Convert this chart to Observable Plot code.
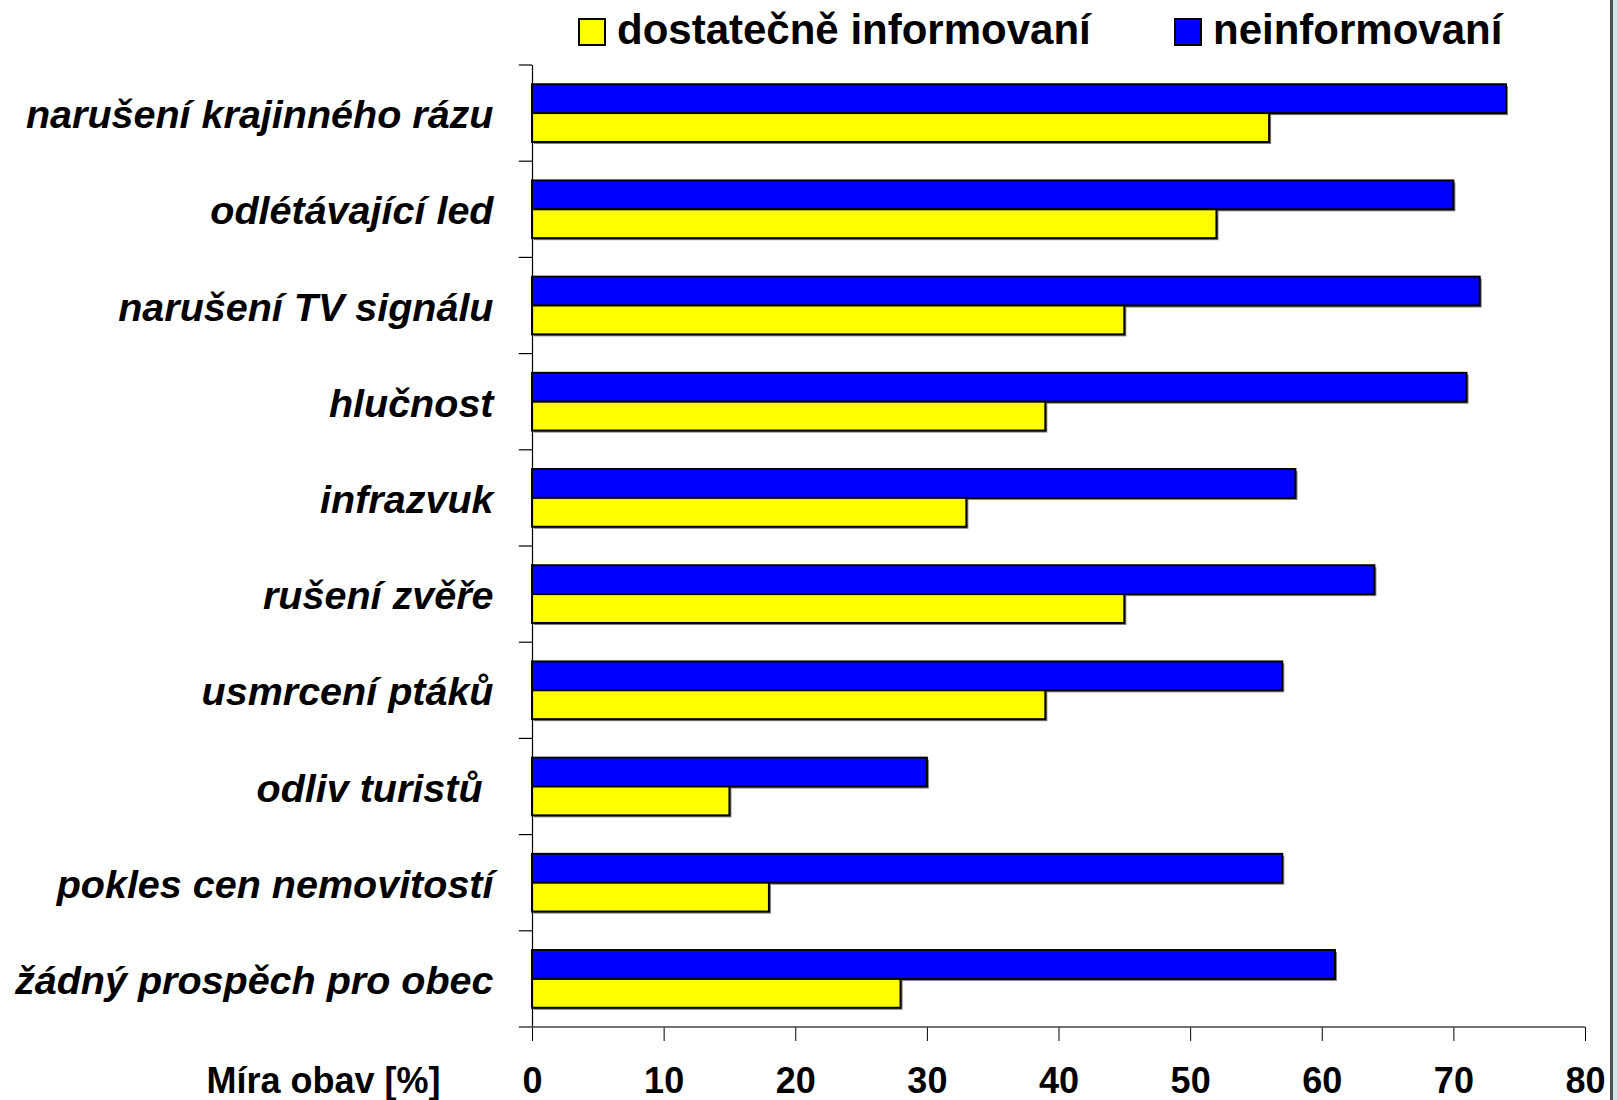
<!DOCTYPE html>
<html>
<head>
<meta charset="utf-8">
<script src="https://cdn.jsdelivr.net/npm/d3@7"></script>
<script src="https://cdn.jsdelivr.net/npm/@observablehq/plot@0.6"></script>
<style>
  body { margin: 0; background: #fff; font-family: "Liberation Sans", Arial, sans-serif; }
  #wrap { position: relative; width: 1617px; height: 1100px; overflow: hidden; background: #fff; }
  #legend { position: relative; height: 60px; }
  .sw { position: absolute; top: 18px; width: 24px; height: 24px; border: 2px solid #000; }
  .lt { position: absolute; top: 9px; font-size: 42px; font-weight: bold; line-height: 1; color: #000; white-space: nowrap; }
  #edge1 { position: absolute; left: 1610px; top: 0; width: 3px; height: 1100px; background: #505050; }
  #edge2 { position: absolute; left: 1613px; top: 0; width: 4px; height: 1100px; background: #d3e6ea; }
</style>
</head>
<body>
<div id="wrap">
  <div id="legend"></div>
  <div id="chart"></div>
  <div id="edge1"></div>
  <div id="edge2"></div>
</div>
<script>
// ---- data ----
const categories = [
  "narušení krajinného rázu",
  "odlétávající led",
  "narušení TV signálu",
  "hlučnost",
  "infrazvuk",
  "rušení zvěře",
  "usmrcení ptáků",
  "odliv turistů\u00a0",
  "pokles cen nemovitostí",
  "žádný prospěch pro obec"
];
const neinformovani = [74, 70, 72, 71, 58, 64, 57, 30, 57, 61];
const dostatecne    = [56, 52, 45, 39, 33, 45, 39, 15, 18, 28];
const seriesNames = ["dostatečně informovaní", "neinformovaní"];
const seriesColors = ["#ffff00", "#0000ff"];
const xTicks = [0, 10, 20, 30, 40, 50, 60, 70, 80];
const xLabel = "Míra obav [%]";

const blueRows = categories.map((c, i) => ({category: c, series: seriesNames[1], value: neinformovani[i]}));
const yellowRows = categories.map((c, i) => ({category: c, series: seriesNames[0], value: dostatecne[i]}));

// ---- legend ----
const legend = document.getElementById("legend");
const legendPos = [{sw: 578, tx: 617}, {sw: 1174, tx: 1213}];
seriesNames.forEach((name, i) => {
  const s = document.createElement("div");
  s.className = "sw";
  s.style.left = legendPos[i].sw + "px";
  s.style.background = seriesColors[i];
  legend.appendChild(s);
  const t = document.createElement("div");
  t.className = "lt";
  t.style.left = legendPos[i].tx + "px";
  t.textContent = name;
  legend.appendChild(t);
});

// ---- chart ----
const W = 1617, H = 1040, MT = 5, MB = 73, ML = 532, MR = 32;
const step = (H - MT - MB) / categories.length;
const half = step * 0.6 / 2;
const font = "'Liberation Sans', Arial, sans-serif";
const TICK = 14, PAD = 26;

const chart = Plot.plot({
  width: W, height: H,
  marginTop: MT, marginBottom: MB, marginLeft: ML, marginRight: MR,
  style: {fontFamily: font, fontSize: "36px", fontWeight: "bold", color: "#000", background: "transparent", overflow: "visible"},
  x: {domain: [0, 80], label: null},
  y: {domain: categories, paddingInner: 0.4, paddingOuter: 0.2, round: false, axis: null, label: null},
  marks: [
    Plot.barX(blueRows, {x: "value", y: "category", fill: "#7a7a7a", dx: 2, dy: 2, insetBottom: half}),
    Plot.barX(yellowRows, {x: "value", y: "category", fill: "#7a7a7a", dx: 2, dy: 2, insetTop: half}),
    Plot.barX(blueRows, {x: "value", y: "category", fill: seriesColors[1], stroke: "#000", strokeWidth: 2, insetBottom: half}),
    Plot.barX(yellowRows, {x: "value", y: "category", fill: seriesColors[0], stroke: "#000", strokeWidth: 2, insetTop: half}),
    Plot.ruleX([0], {stroke: "#000", strokeWidth: 1.2}),
    Plot.axisX({ticks: xTicks, tickSize: TICK, tickPadding: PAD, fontSize: 36, fontWeight: "bold", stroke: "#000", label: null}),
    Plot.text(categories, {y: d => d, frameAnchor: "left", textAnchor: "end", dx: -39, dy: 2, fontSize: 39.5, fontStyle: "italic", fontWeight: "bold", fill: "#000"}),
    Plot.text([xLabel], {frameAnchor: "bottom-left", textAnchor: "end", lineAnchor: "top", dx: -92, dy: TICK + PAD, fontSize: 36, fontWeight: "bold", fill: "#000"})
  ]
});

// boundary ticks on the category axis and the bottom axis line, from the scales
const ys = chart.scale("y"), xs = chart.scale("x");
const x0 = xs.apply(0), x1 = xs.apply(80);
const tickLen = (xs.apply(10) - xs.apply(0)) / 10;
const bounds = d3.range(categories.length + 1).map(i => ys.range[0] + i * ys.step);
const g = d3.select(chart).append("g");
g.selectAll("line.b").data(bounds.slice(0, -1)).join("line")
  .attr("x1", x0 - tickLen).attr("x2", x0)
  .attr("y1", d => d).attr("y2", d => d)
  .attr("stroke", "#000").attr("stroke-width", 1.2);
g.append("line")
  .attr("x1", x0 - tickLen).attr("x2", x1)
  .attr("y1", bounds[bounds.length - 1]).attr("y2", bounds[bounds.length - 1])
  .attr("stroke", "#444").attr("stroke-width", 1.6);

document.getElementById("chart").appendChild(chart);
</script>
</body>
</html>
